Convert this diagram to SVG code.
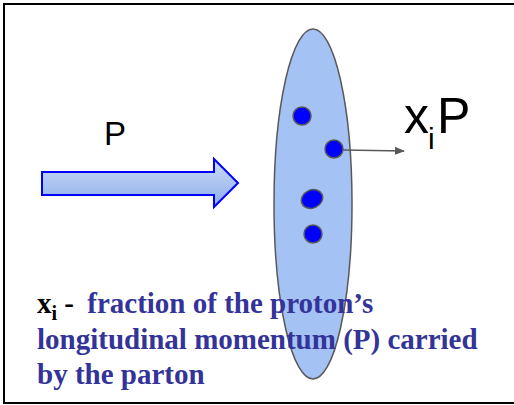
<svg xmlns="http://www.w3.org/2000/svg" width="514" height="405" viewBox="0 0 514 405">
<defs>
<linearGradient id="g" x1="0" y1="0" x2="0" y2="1">
<stop offset="0" stop-color="#cddcf6"/>
<stop offset="1" stop-color="#8cadea"/>
</linearGradient>
<marker id="ah" markerWidth="10" markerHeight="8" refX="9" refY="4" orient="auto" markerUnits="userSpaceOnUse">
<path d="M0,0 L10,4 L0,8 Z" fill="#595959"/>
</marker>
<style>
.dot{fill:#0000ff;stroke:#595959;stroke-width:1.5}
.big{font-family:"Liberation Sans",Arial,sans-serif;fill:#000}
.cap{font-family:"Liberation Serif","Times New Roman",serif;font-weight:bold;font-size:29px;fill:#333399}
</style>
</defs>
<rect x="0" y="0" width="514" height="405" fill="#fff"/>
<path d="M516,4 H4 V403 H516" fill="none" stroke="#000" stroke-width="2"/>
<g id="beam">
<path d="M42,172 H214 V159 L238,183 L214,207 V195 H42 Z" fill="url(#g)" stroke="#0000ff" stroke-width="2"/>
<text class="big" x="104" y="145" font-size="33">P</text>
</g>
<g id="proton">
<ellipse cx="313" cy="204" rx="39" ry="175" fill="#a4c2f4" stroke="#595959" stroke-width="1.5"/>
</g>
<g id="partons">
<circle class="dot" cx="302" cy="116" r="9"/>
<circle class="dot" cx="334" cy="149" r="9"/>
<ellipse class="dot" cx="312" cy="199" rx="11" ry="9" transform="rotate(-25 312 199)"/>
<circle class="dot" cx="313" cy="234" r="9"/>
</g>
<g id="connectors">
<line x1="343" y1="150" x2="404" y2="151" stroke="#595959" stroke-width="1.5" marker-end="url(#ah)"/>
</g>
<g id="label-xiP">
<text class="big" x="404" y="133" font-size="50">x</text>
<text class="big" x="428" y="149" font-size="30">i</text>
<text class="big" x="437" y="133" font-size="50">P</text>
</g>
<g id="caption">
<text class="cap" x="37" y="313"><tspan fill="#000">x</tspan><tspan fill="#000" font-size="20" dy="7">i</tspan><tspan fill="#000" dy="-7"> - </tspan><tspan dx="6">fraction of the proton’s</tspan></text>
<text class="cap" x="37" y="349">longitudinal momentum (P) carried</text>
<text class="cap" x="37" y="384">by the parton</text>
</g>
</svg>
